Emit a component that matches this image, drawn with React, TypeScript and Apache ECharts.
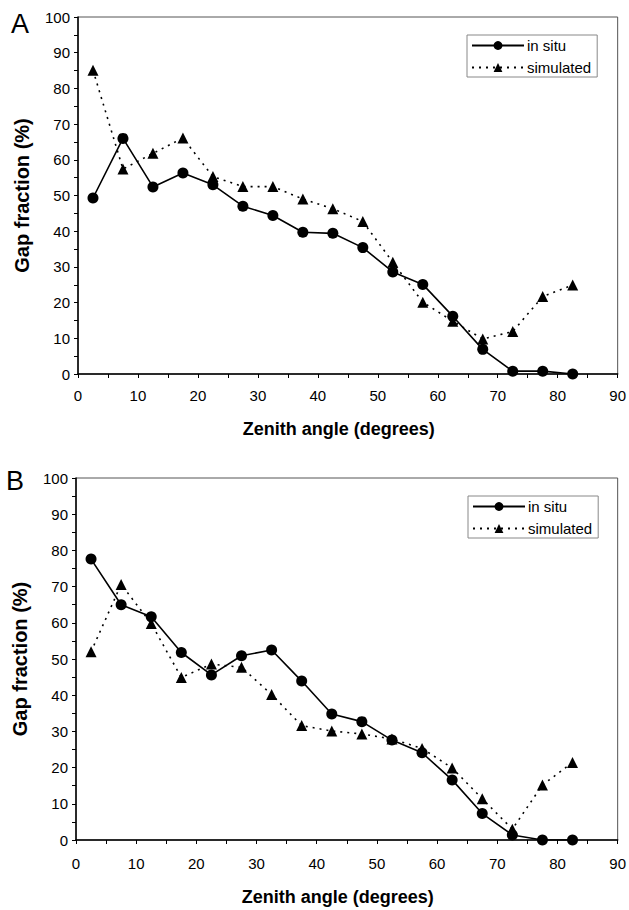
import React, { useEffect, useRef } from "react";
import * as echarts from "echarts";

const zenith = [2.5, 7.5, 12.5, 17.5, 22.5, 27.5, 32.5, 37.5, 42.5, 47.5, 52.5, 57.5, 62.5, 67.5, 72.5, 77.5, 82.5];
const inSituA = [49.3, 66, 52.4, 56.3, 53, 47, 44.4, 39.7, 39.4, 35.4, 28.6, 25.1, 16.2, 6.9, 0.8, 0.8, 0];
const simulatedA = [85.1, 57.4, 61.8, 66.1, 55.3, 52.5, 52.5, 49, 46.3, 42.7, 31.3, 20.1, 14.8, 9.8, 11.9, 21.7, 24.9];
const inSituB = [77.6, 65, 61.7, 51.8, 45.6, 50.9, 52.5, 43.9, 34.8, 32.7, 27.6, 24.1, 16.6, 7.3, 1.4, 0, 0];
const simulatedB = [52, 70.6, 59.8, 44.9, 48.6, 47.7, 40.2, 31.6, 30.1, 29.3, 27.9, 25.3, 19.9, 11.4, 3, 15.2, 21.4];
const seriesNames = ["in situ", "simulated"];
const xTitle = "Zenith angle (degrees)";
const yTitle = "Gap fraction (%)";
const panelLabels = ["A", "B"];

const FONT = "Liberation Sans, Arial, sans-serif";

function pair(xs: number[], ys: number[]) {
  return xs.map((x, i) => [x, ys[i]]);
}

export default function App() {
  const ref = useRef<HTMLDivElement>(null);
  useEffect(() => {
    if (!ref.current) return;
    const chart = echarts.init(ref.current, null, { renderer: "svg" });
    const xAxisBase = (gridIndex: number, nameGap: number, labelMargin: number) => ({
      type: "value",
      gridIndex,
      min: 0,
      max: 90,
      interval: 10,
      name: xTitle,
      nameLocation: "middle",
      nameGap,
      nameTextStyle: { fontFamily: FONT, fontSize: 18, fontWeight: "bold", color: "#000", padding: [0, 18, 0, 0] },
      axisLine: { show: true, lineStyle: { color: "#000", width: 1.5 } },
      axisTick: { show: true, inside: false, length: 4, lineStyle: { color: "#000" } },
      minorTick: { show: true, splitNumber: 2, length: 4, lineStyle: { color: "#000" } },
      splitLine: { show: false },
      axisLabel: { fontFamily: FONT, fontSize: 15, color: "#000", margin: labelMargin },
    });
    const yAxisBase = (gridIndex: number) => ({
      type: "value",
      gridIndex,
      min: 0,
      max: 100,
      interval: 10,
      name: yTitle,
      nameLocation: "middle",
      nameGap: 46,
      nameTextStyle: { fontFamily: FONT, fontSize: 20, fontWeight: "bold", color: "#000" },
      axisLine: { show: true, lineStyle: { color: "#000", width: 1.5 } },
      axisTick: { show: true, inside: false, length: 4, lineStyle: { color: "#000" } },
      minorTick: { show: true, splitNumber: 2, length: 4, lineStyle: { color: "#000" } },
      splitLine: { show: false },
      axisLabel: { fontFamily: FONT, fontSize: 15, color: "#000", margin: 8 },
    });
    const inSituStyle = {
      type: "line",
      symbol: "circle",
      symbolSize: 11,
      lineStyle: { color: "#000", width: 1.6, type: "solid" },
      itemStyle: { color: "#000" },
    };
    const simStyle = {
      type: "line",
      symbol: "triangle",
      symbolSize: 11,
      lineStyle: { color: "#000", width: 1.6, type: [2, 5] },
      itemStyle: { color: "#000" },
    };
    const legendBase = (left: number, top: number) => ({
      orient: "vertical",
      left,
      top,
      data: seriesNames,
      itemWidth: 52,
      itemHeight: 11,
      itemGap: 7,
      padding: [3, 6, 2, 4],
      borderColor: "#888",
      borderWidth: 1,
      textStyle: { fontFamily: FONT, fontSize: 15, color: "#000", padding: [0, 0, 0, -2] },
      selectedMode: false,
    });
    chart.setOption({
      animation: false,
      backgroundColor: "#fff",
      grid: [
        { left: 78, top: 17, width: 542, height: 357, show: true, borderColor: "#555", borderWidth: 1 },
        { left: 76, top: 478, width: 543, height: 362, show: true, borderColor: "#555", borderWidth: 1 },
      ],
      xAxis: [xAxisBase(0, 46, 14), xAxisBase(1, 48, 16)],
      yAxis: [yAxisBase(0), yAxisBase(1)],
      legend: [legendBase(467, 35), legendBase(468, 496)],
      series: [
        { ...inSituStyle, name: seriesNames[0], xAxisIndex: 0, yAxisIndex: 0, data: pair(zenith, inSituA), z: 3 },
        { ...simStyle, name: seriesNames[1], xAxisIndex: 0, yAxisIndex: 0, data: pair(zenith, simulatedA), z: 2 },
        { ...inSituStyle, name: seriesNames[0], xAxisIndex: 1, yAxisIndex: 1, data: pair(zenith, inSituB), z: 3 },
        { ...simStyle, name: seriesNames[1], xAxisIndex: 1, yAxisIndex: 1, data: pair(zenith, simulatedB), z: 2 },
      ],
      graphic: [
        { type: "text", left: 11, top: 10, style: { text: panelLabels[0], fontFamily: FONT, fontSize: 27, fill: "#000" } },
        { type: "text", left: 6, top: 467, style: { text: panelLabels[1], fontFamily: FONT, fontSize: 27, fill: "#000" } },
      ],
    });
    return () => chart.dispose();
  }, []);
  return (
    <div
      ref={ref}
      style={{ position: "fixed", left: 0, top: 0, width: 629, height: 910, background: "#fff" }}
    />
  );
}
